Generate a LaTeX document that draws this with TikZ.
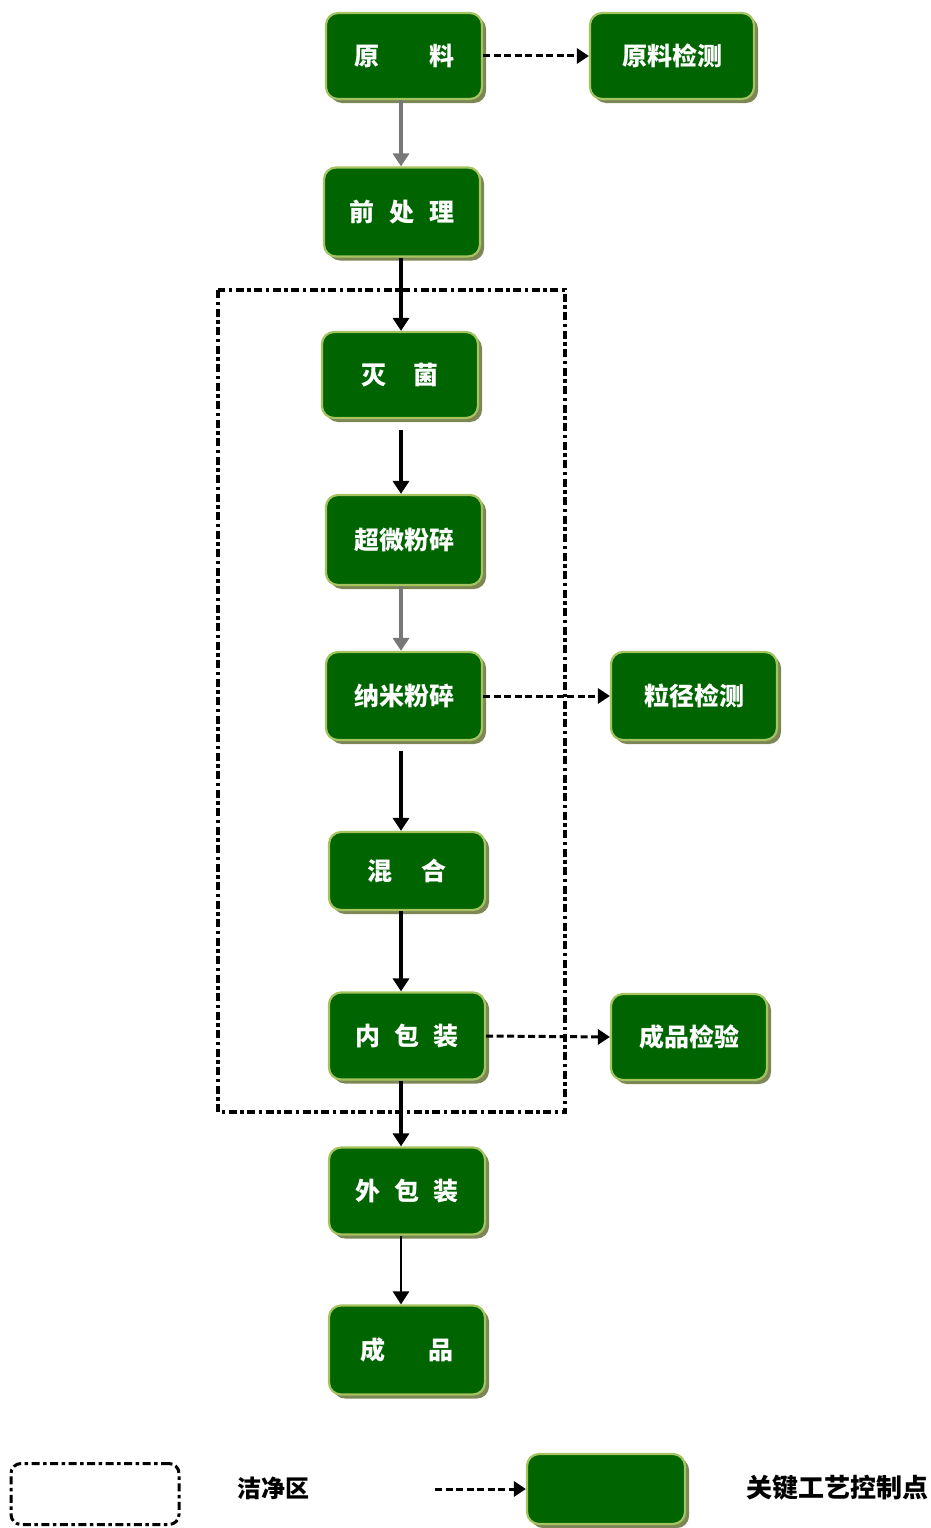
\documentclass[tikz,border=0pt]{standalone}
\usepackage{fontspec}
\setmainfont{Noto Sans CJK SC}
\usetikzlibrary{arrows.meta,shadows}
\definecolor{boxgreen}{RGB}{0,100,0}
\definecolor{boxrim}{RGB}{165,195,95}
\definecolor{boxshadow}{RGB}{125,135,85}
\definecolor{flowgray}{RGB}{120,120,120}
\begin{document}
\begin{tikzpicture}[x=1pt, y=-1pt,
		gongxu/.style={draw=boxrim, line width=2.2pt, fill=boxgreen, rounded corners=12pt,
			minimum width=156pt, minimum height=86pt, inner sep=0pt, text=white,
			font=\fontsize{25}{28}\selectfont\bfseries,
			drop shadow={shadow xshift=4pt, shadow yshift=-4pt, fill=boxshadow, opacity=1}},
		liu/.style={line width=3.6pt, -{Triangle[width=16pt,length=13pt]}},
		jiance/.style={line width=3pt, dash pattern=on 7pt off 3.5pt, -{Triangle[width=15pt,length=12pt]}},
		qingjie/.style={line width=3.6pt, dash pattern=on 8pt off 3.5pt on 3.5pt off 3.5pt}]
		\useasboundingbox (0,0) rectangle (931,1528);
		\draw[qingjie] (218,290) rectangle (565,1112);
		\node[gongxu] (yuanliao) at (404,56) {原\hspace{2em}料};
		\node[gongxu, minimum width=164pt] (yljc) at (672,56) {原料检测};
		\node[gongxu, minimum height=89pt] (qianchuli) at (402,212) {前\hspace{0.6em}处\hspace{0.6em}理};
		\node[gongxu] (miejun) at (400,375) {灭\hspace{1.1em}菌};
		\node[gongxu, minimum height=90pt] (chaowei) at (404,540) {超微粉碎};
		\node[gongxu, minimum height=88pt] (nami) at (404,696) {纳米粉碎};
		\node[gongxu, minimum width=166pt, minimum height=88pt] (lijing) at (694,696) {粒径检测};
		\node[gongxu, minimum height=78pt] (hunhe) at (407,871) {混\hspace{1.2em}合};
		\node[gongxu, minimum height=87pt] (neibz) at (407,1036) {内\hspace{0.55em}包\hspace{0.55em}装};
		\node[gongxu] (chengjy) at (689,1037) {成品检验};
		\node[gongxu, minimum height=87pt] (waibz) at (407,1191) {外\hspace{0.55em}包\hspace{0.55em}装};
		\node[gongxu, minimum height=89pt] (chengpin) at (407,1350) {成\hspace{1.7em}品};
		\draw[liu, flowgray] (yuanliao.south -| 401,0) -- (qianchuli.north -| 401,0);
		\draw[liu] (qianchuli.south -| 401,0) -- (miejun.north -| 401,0);
		\draw[liu, shorten <=11pt] (miejun.south -| 401,0) -- (chaowei.north -| 401,0);
		\draw[liu, flowgray] (chaowei.south -| 401,0) -- (nami.north -| 401,0);
		\draw[liu, shorten <=10pt] (nami.south -| 401,0) -- (hunhe.north -| 401,0);
		\draw[liu] (hunhe.south -| 401,0) -- (neibz.north -| 401,0);
		\draw[liu] (neibz.south -| 401,0) -- (waibz.north -| 401,0);
		\draw[liu, line width=2.6pt] (waibz.south -| 401,0) -- (chengpin.north -| 401,0);
		\draw[jiance] (yuanliao.east) -- (yljc.west);
		\draw[jiance] (nami.east) -- (lijing.west);
		\draw[jiance] (neibz.east) -- (chengjy.west);
		\node[draw, qingjie, line width=3pt, rounded corners=10pt, minimum width=168pt, minimum height=61pt] (tuliqu) at (95,1494) {};
		\node[font=\fontsize{24}{28}\selectfont\bfseries] (qjq) at (273,1488) {洁净区};
		\node[gongxu, minimum width=158pt, minimum height=70pt] (tuligx) at (606,1489) {};
		\coordinate (tuliqi) at (435,1489);
		\draw[jiance] (tuliqi) -- (tuligx.west);
		\node[font=\fontsize{26}{28}\selectfont\bfseries] (gjd) at (837,1488) {关键工艺控制点};
\end{tikzpicture}
\end{document}
